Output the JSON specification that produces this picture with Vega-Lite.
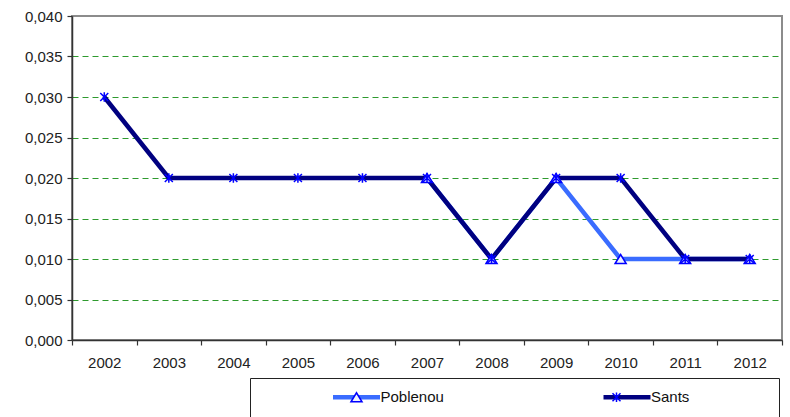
{
  "$schema": "https://vega.github.io/schema/vega-lite/v6.json",
  "width": 710,
  "height": 324,
  "autosize": {"type": "none"},
  "padding": {"left": 72, "top": 16, "right": 8, "bottom": 77},
  "background": "white",
  "data": {
    "values": [
      {"year": "2007", "serie": "Poblenou", "value": 0.02},
      {"year": "2008", "serie": "Poblenou", "value": 0.01},
      {"year": "2009", "serie": "Poblenou", "value": 0.02},
      {"year": "2010", "serie": "Poblenou", "value": 0.01},
      {"year": "2011", "serie": "Poblenou", "value": 0.01},
      {"year": "2012", "serie": "Poblenou", "value": 0.01},
      {"year": "2002", "serie": "Sants", "value": 0.03},
      {"year": "2003", "serie": "Sants", "value": 0.02},
      {"year": "2004", "serie": "Sants", "value": 0.02},
      {"year": "2005", "serie": "Sants", "value": 0.02},
      {"year": "2006", "serie": "Sants", "value": 0.02},
      {"year": "2007", "serie": "Sants", "value": 0.02},
      {"year": "2008", "serie": "Sants", "value": 0.01},
      {"year": "2009", "serie": "Sants", "value": 0.02},
      {"year": "2010", "serie": "Sants", "value": 0.02},
      {"year": "2011", "serie": "Sants", "value": 0.01},
      {"year": "2012", "serie": "Sants", "value": 0.01}
    ]
  },
  "encoding": {
    "x": {
      "field": "year",
      "type": "ordinal",
      "scale": {"domain": ["2002","2003","2004","2005","2006","2007","2008","2009","2010","2011","2012"], "paddingInner": 0, "paddingOuter": 0},
      "axis": {
        "title": null,
        "labelAngle": 0,
        "tickBand": "extent",
        "tickSize": 5,
        "tickColor": "#333333",
        "tickWidth": 1.2,
        "domainColor": "#333333",
        "domainWidth": 1.5,
        "labelPadding": 10,
        "labelFont": "Liberation Sans",
        "labelFontSize": 15,
        "labelColor": "#222222",
        "grid": false
      }
    },
    "y": {
      "field": "value",
      "type": "quantitative",
      "scale": {"domain": [0, 0.04], "nice": false},
      "axis": {
        "title": null,
        "values": [0, 0.005, 0.01, 0.015, 0.02, 0.025, 0.03, 0.035, 0.04],
        "labelExpr": "replace(format(datum.value, '.3f'), '.', ',')",
        "tickSize": 5,
        "tickColor": "#333333",
        "tickWidth": 1.2,
        "domainColor": "#333333",
        "domainWidth": 1.5,
        "labelPadding": 5,
        "labelFont": "Liberation Sans",
        "labelFontSize": 15,
        "labelColor": "#222222",
        "grid": true,
        "gridDash": [6, 4],
        "gridWidth": 1,
        "gridColor": {"condition": {"test": "datum.value >= 0.039 || datum.value <= 0.0001", "value": "transparent"}, "value": "#2e9a2e"}
      }
    }
  },
  "layer": [
    {
      "mark": {"type": "line", "strokeWidth": 4.5},
      "encoding": {
        "color": {
          "field": "serie",
          "type": "nominal",
          "scale": {"domain": ["Poblenou", "Sants"], "range": ["#3a6cff", "#000080"]},
          "legend": {
            "title": " ",
            "titleOrient": "left",
            "titleFont": "Liberation Sans",
            "titleFontSize": 60,
            "titlePadding": 71.5,
            "orient": "none",
            "legendX": 178,
            "legendY": 362,
            "direction": "horizontal",
            "padding": 11.5,
            "strokeColor": "#222222",
            "symbolType": "M32.725,0M-5.875,0H5.875",
            "symbolSize": 64,
            "symbolStrokeWidth": 4.5,
            "symbolOffset": 16,
            "labelOffset": 16.5,
            "columnPadding": 97.5,
            "labelFont": "Liberation Sans",
            "labelFontSize": 15,
            "labelColor": "#111111"
          }
        }
      }
    },
    {
      "transform": [{"filter": "datum.value >= 0"}],
      "mark": {"type": "point", "filled": true, "fill": "#eef2ff", "stroke": "#0000ff", "strokeWidth": 1.5, "size": 64, "opacity": 1},
      "encoding": {
        "shape": {
          "field": "serie",
          "type": "nominal",
          "scale": {"range": ["M32.725,0M-5.875,0M-1.375,1.125L0,-1.125L1.375,1.125Z", "M32.725,0M-5.875,0M-1,-1L1,1M-1,1L1,-1M0,-1.2L0,1.2"]},
          "legend": {
            "title": " ",
            "titleOrient": "left",
            "titleFont": "Liberation Sans",
            "titleFontSize": 60,
            "titlePadding": 71.5,
            "titleColor": "transparent",
            "orient": "none",
            "legendX": 178,
            "legendY": 362,
            "direction": "horizontal",
            "padding": 11.5,
            "symbolSize": 64,
            "symbolOffset": 16,
            "labelOffset": 16.5,
            "columnPadding": 99,
            "labelFont": "Liberation Sans",
            "labelFontSize": 15,
            "labelExpr": "''",
            "labelColor": "transparent"
          }
        }
      }
    }
  ],
  "config": {
    "view": {"stroke": "#8c8c8c", "strokeWidth": 2},
    "font": "Liberation Sans"
  }
}
